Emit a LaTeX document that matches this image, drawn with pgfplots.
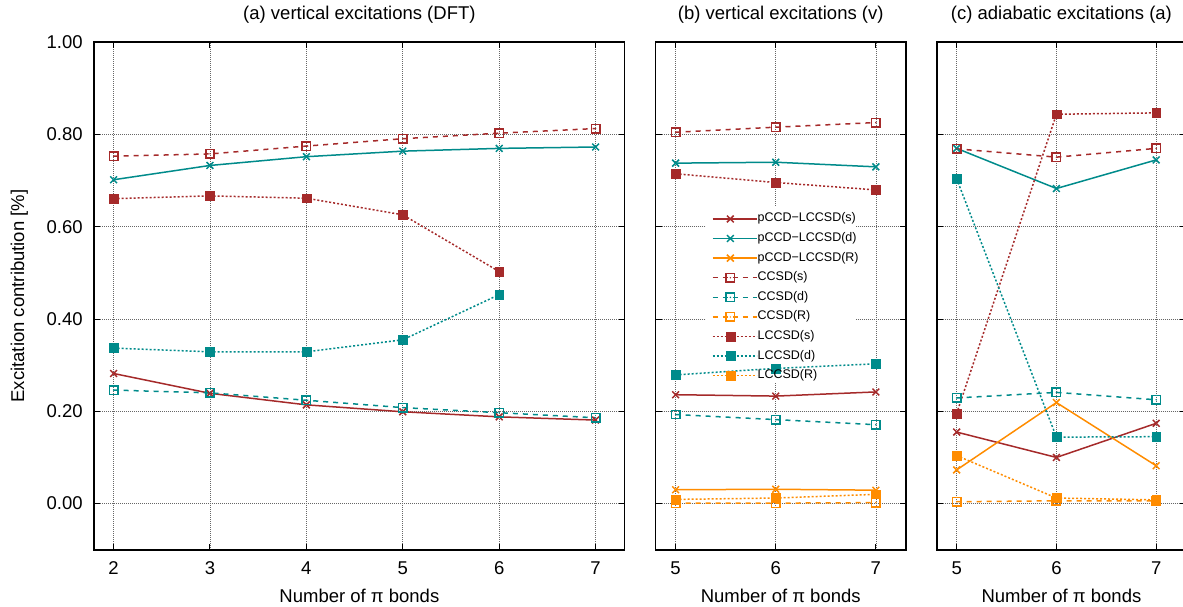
\documentclass[border=0pt]{standalone}
\usepackage{fontspec}
\setmainfont{Liberation Sans}
\usepackage{pgfplots}
\pgfplotsset{compat=1.18}
\definecolor{cred}{HTML}{A52A2A}
\definecolor{cteal}{HTML}{008B8B}
\definecolor{corange}{HTML}{FF8C00}

% open square with a dot in the middle (gnuplot style)
\pgfdeclareplotmark{sqdot}{%
  \pgfpathrectangle{\pgfpoint{-\pgfplotmarksize}{-\pgfplotmarksize}}%
    {\pgfpoint{2\pgfplotmarksize}{2\pgfplotmarksize}}%
  \pgfusepathqstroke
  \pgfpathcircle{\pgfpointorigin}{0.8pt}\pgfusepathqfill}

\newcommand{\lblfont}{\fontsize{18.5}{21}\selectfont}

\pgfplotsset{
  panel/.style={
    scale only axis, height=507.4pt,
    ymin=-0.1, ymax=1.0, ytick={0,0.2,0.4,0.6,0.8,1.0},
    grid=major, grid style={line width=0.7pt, draw=gray!80!black, dash pattern=on 1pt off 1pt},
    tick align=inside, xtick pos=both, ytick pos=both,
    major tick length=6pt, tick style={black, line width=1pt},
    axis line style={line width=1.7pt},
    tick label style={font=\lblfont},
    /pgf/number format/assume math mode=true,
    yticklabel={\pgfmathprintnumber[fixed,fixed zerofill,precision=2]{\tick}},
    xticklabel style={anchor=center, inner sep=0pt, yshift=-18.6pt},
    yticklabel style={anchor=east, inner sep=0pt, xshift=-11.4pt},
    xlabel={Number of π bonds},
    every axis x label/.style={at={(rel axis cs:0.5,0)}, anchor=center, yshift=-46.1pt, font=\lblfont},
    every axis title/.style={at={(rel axis cs:0.5,1)}, anchor=center, yshift=27.3pt, font=\lblfont, inner sep=0pt},
  },
  pl/.style={line width=1.5pt, color=#1},
  ps/.style={pl=#1, solid, mark=x, mark size=4.8pt, mark options={solid}},
  cs/.style={pl=#1, dash pattern=on 5pt off 5pt, mark=sqdot, mark size=4.2pt, mark options={solid}},
  ls/.style={pl=#1, dash pattern=on 2pt off 2pt, mark=square*, mark size=4.4pt, mark options={solid, line width=0.5pt}},
}

\begin{document}
\begin{tikzpicture}
\useasboundingbox (0,0) rectangle (1183pt,607pt);

% ---------- (a) ----------
\begin{axis}[panel, at={(94.3pt,57.3pt)}, anchor=south west, width=530.2pt,
  xmin=1.8, xmax=7.3, xtick={2,3,4,5,6,7},
  title={(a) vertical excitations (DFT)},
  ylabel={Excitation contribution [\%]},
  every axis y label/.style={at={(rel axis cs:0,0.5)}, anchor=center, rotate=90, yshift=74.9pt, font=\lblfont}]
\addplot[ps=cred] coordinates {(2,0.282) (3,0.239) (4,0.214) (5,0.199) (6,0.188) (7,0.181)};
\addplot[ps=cteal] coordinates {(2,0.702) (3,0.733) (4,0.752) (5,0.764) (6,0.770) (7,0.773)};
\addplot[cs=cred] coordinates {(2,0.753) (3,0.758) (4,0.775) (5,0.791) (6,0.803) (7,0.813)};
\addplot[cs=cteal] coordinates {(2,0.246) (3,0.240) (4,0.224) (5,0.208) (6,0.197) (7,0.186)};
\addplot[ls=cred] coordinates {(2,0.661) (3,0.667) (4,0.662) (5,0.626) (6,0.503)};
\addplot[ls=cteal] coordinates {(2,0.337) (3,0.329) (4,0.329) (5,0.355) (6,0.453)};
\end{axis}

% ---------- (b) ----------
\begin{axis}[panel, at={(655.6pt,57.3pt)}, anchor=south west, width=250.3pt,
  xmin=4.8, xmax=7.3, xtick={5,6,7}, yticklabels={},
  title={(b) vertical excitations (v)},
  legend cell align=left,
  legend image code/.code={%
    \draw[mark repeat=2, mark phase=2] plot coordinates {(0pt,0pt) (17.5pt,0pt) (35pt,0pt)};
    \path (0pt,0pt) -- (44pt,0pt);},
  legend style={at={(0.201,0.670)}, anchor=north west, draw=none, fill=none,
    inner xsep=6pt, inner ysep=3pt, row sep=7.6pt,
    font=\fontsize{12.5}{14}\selectfont,
    nodes={inner sep=0pt, text height=9pt, text depth=3pt}}]
% white key box: hides the grid, the curves run over it
\fill[white] (axis cs:5.305,0.262) rectangle (axis cs:6.806,0.643);
\addplot[ps=cred] coordinates {(5,0.236) (6,0.233) (7,0.242)};
\addlegendentry{pCCD−LCCSD(s)}
\addplot[ps=cteal] coordinates {(5,0.738) (6,0.740) (7,0.730)};
\addlegendentry{pCCD−LCCSD(d)}
\addplot[ps=corange] coordinates {(5,0.030) (6,0.031) (7,0.029)};
\addlegendentry{pCCD−LCCSD(R)}
\addplot[cs=cred] coordinates {(5,0.805) (6,0.816) (7,0.826)};
\addlegendentry{CCSD(s)}
\addplot[cs=cteal] coordinates {(5,0.193) (6,0.182) (7,0.171)};
\addlegendentry{CCSD(d)}
\addplot[cs=corange] coordinates {(5,0.001) (6,0.001) (7,0.002)};
\addlegendentry{CCSD(R)}
\addplot[ls=cred] coordinates {(5,0.715) (6,0.696) (7,0.680)};
\addlegendentry{LCCSD(s)}
\addplot[ls=cteal] coordinates {(5,0.279) (6,0.293) (7,0.303)};
\addlegendentry{LCCSD(d)}
\addplot[ls=corange] coordinates {(5,0.009) (6,0.012) (7,0.020)};
\addlegendentry{LCCSD(R)}
\end{axis}

% ---------- (c) ----------
\begin{axis}[panel, at={(936.7pt,57.3pt)}, anchor=south west, width=249.4pt,
  xmin=4.8, xmax=7.3, xtick={5,6,7}, yticklabels={},
  title={(c) adiabatic excitations (a)}]
\addplot[ps=cred] coordinates {(5,0.155) (6,0.100) (7,0.174)};
\addplot[ps=cteal] coordinates {(5,0.770) (6,0.683) (7,0.745)};
\addplot[ps=corange] coordinates {(5,0.073) (6,0.219) (7,0.082)};
\addplot[cs=cred] coordinates {(5,0.769) (6,0.751) (7,0.770)};
\addplot[cs=cteal] coordinates {(5,0.229) (6,0.241) (7,0.225)};
\addplot[cs=corange] coordinates {(5,0.004) (6,0.006) (7,0.006)};
\addplot[ls=cred] coordinates {(5,0.195) (6,0.844) (7,0.847)};
\addplot[ls=cteal] coordinates {(5,0.704) (6,0.144) (7,0.145)};
\addplot[ls=corange] coordinates {(5,0.104) (6,0.012) (7,0.008)};
\end{axis}
\end{tikzpicture}
\end{document}
